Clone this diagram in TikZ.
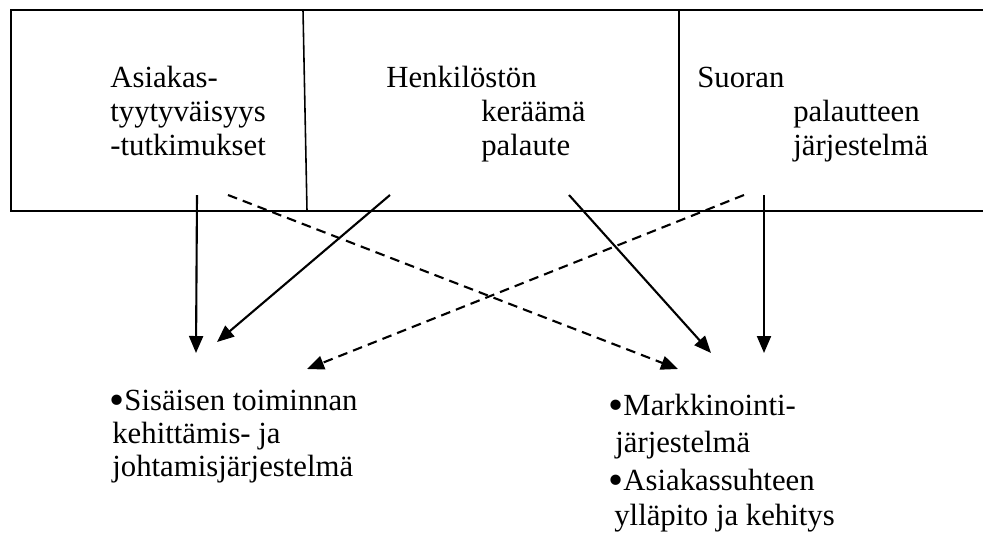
\documentclass[tikz,border=0pt]{standalone}
\usepackage{fontspec}
\setmainfont{Liberation Serif}
\usepackage{graphicx}
\usepackage{tikz}
\usetikzlibrary{arrows.meta}
\newcommand{\bigbul}{\raisebox{-2.4pt}{\scalebox{1.4}{\textbullet}}}

\begin{document}
\begin{tikzpicture}[
                x=0.02cm, y=-0.02cm,
                >={Triangle[length=0.34cm, width=0.28cm]},
                line/.style={line width=1.2pt},
                txt/.style={anchor=base west, inner sep=0pt, font=\fontsize{17.5}{20}\selectfont},
                arrow/.style={->, line width=1.2pt},
                dasharrow/.style={->, line width=1.2pt, dash pattern=on 5.5pt off 3.5pt}
                ]
                \useasboundingbox (0,0) rectangle (983,535);

                % top band with three sources
                \draw[line] (983,10) -- (11,10) -- (11,211) -- (983,211);
                \draw[line, line width=0.9pt] (303,10) -- (307,211);
                \draw[line, line width=0.9pt] (679,10) -- (679,211);

                \node[txt] (kys1) at (110,87) {Asiakas-};
                \node[txt] (kys2) at (110,121) {tyytyväisyys};
                \node[txt] (kys3) at (110,155) {-tutkimukset};

                \node[txt] (hlo1) at (386,87) {Henkilöstön};
                \node[txt] (hlo2) at (481,121) {keräämä};
                \node[txt] (hlo3) at (481,155) {palaute};

                \node[txt] (suora1) at (697,87) {Suoran};
                \node[txt] (suora2) at (793,121) {palautteen};
                \node[txt] (suora3) at (793,155) {järjestelmä};

                % targets
                \node[txt] (sis1) at (109,410) {\bigbul Sisäisen toiminnan};
                \node[txt] (sis2) at (112,443) {kehittämis- ja};
                \node[txt] (sis3) at (112,476) {johtamisjärjestelmä};

                \node[txt] (mark1) at (608,415) {\bigbul Markkinointi-};
                \node[txt] (mark2) at (615,452) {järjestelmä};
                \node[txt] (as1) at (608,490) {\bigbul Asiakassuhteen};
                \node[txt] (as2) at (614,525) {ylläpito ja kehitys};

                % arrow end points
                \coordinate (kysA) at (197,195);
                \coordinate (kysB) at (228,195);
                \coordinate (hloA) at (390,195);
                \coordinate (hloB) at (569,195);
                \coordinate (suoraA) at (744,195);
                \coordinate (suoraB) at (764,195);
                \coordinate (sisIn1) at (196,353);
                \coordinate (sisIn2) at (217,342);
                \coordinate (sisIn3) at (307,369);
                \coordinate (markIn1) at (678,369);
                \coordinate (markIn2) at (711,353);
                \coordinate (markIn3) at (764,353);

                \draw[arrow] (kysA) -- (sisIn1);
                \draw[arrow] (hloA) -- (sisIn2);
                \draw[dasharrow] (suoraA) -- (sisIn3);
                \draw[dasharrow] (kysB) -- (markIn1);
                \draw[arrow] (hloB) -- (markIn2);
                \draw[arrow] (suoraB) -- (markIn3);
            \end{tikzpicture}
\end{document}
